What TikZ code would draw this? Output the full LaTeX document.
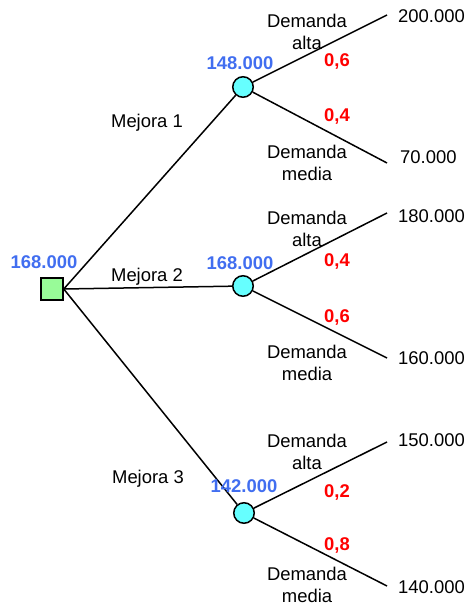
\documentclass[tikz,border=0pt]{standalone}
\usepackage{fontspec}
\setmainfont{Liberation Sans}
\definecolor{valblue}{RGB}{65,110,240}
\definecolor{sqgreen}{RGB}{152,251,152}
\definecolor{circyan}{RGB}{102,255,255}
\begin{document}
\begin{tikzpicture}[x=1bp,y=-1bp,
  decision/.style={draw=black,line width=1.5bp,fill=sqgreen,minimum size=22bp,inner sep=0pt},
  chance/.style={circle,draw=black,line width=1.5bp,fill=circyan,minimum size=20.5bp,inner sep=0pt},
  branch/.style={line width=1.5bp,black},
  lbl/.style={font=\fontsize{18.5}{21.5}\selectfont,align=center,inner sep=0pt},
  ev/.style={font=\fontsize{18.5}{21}\selectfont\bfseries,text=valblue,inner sep=0pt},
  prob/.style={font=\fontsize{18.5}{21}\selectfont\bfseries,text=red,inner sep=0pt},
  pay/.style={font=\fontsize{18.5}{21}\selectfont,anchor=west,inner sep=0pt}]
\useasboundingbox (0,0) rectangle (470,606);
% nodes
\node[decision] (d) at (52,289) {};
\node[chance] (c1) at (243,87) {};
\node[chance] (c2) at (243,286) {};
\node[chance] (c3) at (244,513) {};
\coordinate (e1a) at (387,15);
\coordinate (e1b) at (387,163);
\coordinate (e2a) at (387,213);
\coordinate (e2b) at (387,358);
\coordinate (e3a) at (387,442);
\coordinate (e3b) at (387,586);
% connectors
\draw[branch] (d.east) -- (c1);
\draw[branch] (d.east) -- (c2);
\draw[branch] (d.east) -- (c3);
\draw[branch] (c1) -- (e1a);
\draw[branch] (c1) -- (e1b);
\draw[branch] (c2) -- (e2a);
\draw[branch] (c2) -- (e2b);
\draw[branch] (c3) -- (e3a);
\draw[branch] (c3) -- (e3b);
% expected values
\node[ev] (v0) at (44,262) {168.000};
\node[ev] (v1) at (240,63) {148.000};
\node[ev] (v2) at (240,263) {168.000};
\node[ev] (v3) at (244,486) {142.000};
% alternatives
\node[lbl] (m1) at (147,123) {Mejora 1};
\node[lbl] (m2) at (147,277) {Mejora 2};
\node[lbl] (m3) at (148,479) {Mejora 3};
% demand labels
\node[lbl] (a1) at (307,32) {Demanda\\alta};
\node[lbl] (b1) at (307,163) {Demanda\\media};
\node[lbl] (a2) at (307,229) {Demanda\\alta};
\node[lbl] (b2) at (307,363) {Demanda\\media};
\node[lbl] (a3) at (307,452) {Demanda\\alta};
\node[lbl] (b3) at (307,585) {Demanda\\media};
% probabilities
\node[prob] (p1a) at (337,61) {0,6};
\node[prob] (p1b) at (337,116) {0,4};
\node[prob] (p2a) at (337,261) {0,4};
\node[prob] (p2b) at (337,317) {0,6};
\node[prob] (p3a) at (337,492) {0,2};
\node[prob] (p3b) at (337,545) {0,8};
% payoffs
\node[pay] (r1a) at (398,16) {200.000};
\node[pay] (r1b) at (400,157) {70.000};
\node[pay] (r2a) at (398,216) {180.000};
\node[pay] (r2b) at (398,358) {160.000};
\node[pay] (r3a) at (398,440) {150.000};
\node[pay] (r3b) at (398,587) {140.000};
\end{tikzpicture}
\end{document}
